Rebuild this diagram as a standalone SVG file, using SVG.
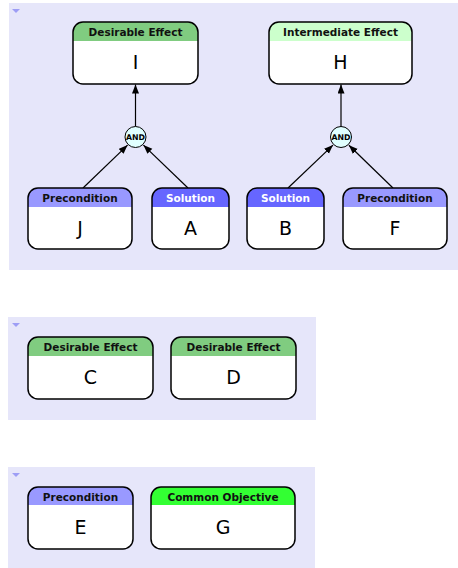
<svg xmlns="http://www.w3.org/2000/svg" width="458" height="568" viewBox="0 0 458 568">
<style>
.panel{fill:#e6e6fa}
.tri{fill:#9d9df5}
.body{fill:#fff}
.outline{fill:none;stroke:#000;stroke-width:1.5}
.title{font-family:"DejaVu Sans",sans-serif;font-weight:bold;font-size:10.5px;text-anchor:middle;fill:#111}
.title.w{fill:#fff}
.letter{font-family:"DejaVu Sans",sans-serif;font-size:19px;text-anchor:middle;fill:#000}
.de{fill:#80cc80}
.ie{fill:#ccffcc}
.pc{fill:#9999ff}
.so{fill:#6666ff}
.co{fill:#33ff33}
.and circle{fill:#e0ffff;stroke:#000;stroke-width:1}
.and text{font-family:"DejaVu Sans",sans-serif;font-weight:bold;font-size:7.8px;text-anchor:middle;fill:#000}
.conn line{stroke:#000;stroke-width:1.2;marker-end:url(#arr)}
</style>
<defs>
<marker id="arr" markerUnits="userSpaceOnUse" markerWidth="10" markerHeight="8" refX="9" refY="3.5" orient="auto">
<path d="M0,0 L9,3.5 L0,7 z" fill="#000"/>
</marker>
</defs>

<g id="panel1">
<rect class="panel" x="9" y="3" width="449" height="267"/>
<path class="tri" d="M12,9 L20,9 L16,13 z"/>
</g>
<g id="panel2">
<rect class="panel" x="8" y="317" width="308" height="103"/>
<path class="tri" d="M12,323 L20,323 L16,327 z"/>
</g>
<g id="panel3">
<rect class="panel" x="8" y="467" width="307" height="101"/>
<path class="tri" d="M12,473 L20,473 L16,477 z"/>
</g>

<g id="connectors" class="conn">
<line x1="83" y1="188" x2="127.6" y2="145.1"/>
<line x1="188" y1="188" x2="143.4" y2="145.1"/>
<line x1="135.5" y1="126.5" x2="135.5" y2="84.5"/>
<line x1="288" y1="188" x2="333" y2="145.1"/>
<line x1="393" y1="188" x2="348.9" y2="145.2"/>
<line x1="341" y1="126.5" x2="341" y2="84.5"/>
</g>

<g id="and1" class="and"><circle cx="135.5" cy="137" r="10.5"/><text x="135.5" y="139.8">AND</text></g>
<g id="and2" class="and"><circle cx="341" cy="137" r="10.5"/><text x="341" y="139.8">AND</text></g>

<g id="nodeI" transform="translate(73,22)">
<rect class="body" width="125" height="62" rx="10"/>
<path class="de" d="M0,19 V10 A10,10 0 0 1 10,0 H115 A10,10 0 0 1 125,10 V19 z"/>
<rect class="outline" width="125" height="62" rx="10"/>
<text class="title" x="62.5" y="14">Desirable Effect</text>
<text class="letter" x="62.5" y="47">I</text>
</g>

<g id="nodeH" transform="translate(269,22)">
<rect class="body" width="143" height="62" rx="10"/>
<path class="ie" d="M0,19 V10 A10,10 0 0 1 10,0 H133 A10,10 0 0 1 143,10 V19 z"/>
<rect class="outline" width="143" height="62" rx="10"/>
<text class="title" x="71.5" y="14">Intermediate Effect</text>
<text class="letter" x="71.5" y="47">H</text>
</g>

<g id="nodeJ" transform="translate(28,188)">
<rect class="body" width="104" height="61" rx="10"/>
<path class="pc" d="M0,19 V10 A10,10 0 0 1 10,0 H94 A10,10 0 0 1 104,10 V19 z"/>
<rect class="outline" width="104" height="61" rx="10"/>
<text class="title" x="52" y="14">Precondition</text>
<text class="letter" x="52" y="47">J</text>
</g>

<g id="nodeA" transform="translate(152,188)">
<rect class="body" width="77" height="61" rx="10"/>
<path class="so" d="M0,19 V10 A10,10 0 0 1 10,0 H67 A10,10 0 0 1 77,10 V19 z"/>
<rect class="outline" width="77" height="61" rx="10"/>
<text class="title w" x="38.5" y="14">Solution</text>
<text class="letter" x="38.5" y="47">A</text>
</g>

<g id="nodeB" transform="translate(247,188)">
<rect class="body" width="77" height="61" rx="10"/>
<path class="so" d="M0,19 V10 A10,10 0 0 1 10,0 H67 A10,10 0 0 1 77,10 V19 z"/>
<rect class="outline" width="77" height="61" rx="10"/>
<text class="title w" x="38.5" y="14">Solution</text>
<text class="letter" x="38.5" y="47">B</text>
</g>

<g id="nodeF" transform="translate(343,188)">
<rect class="body" width="104" height="61" rx="10"/>
<path class="pc" d="M0,19 V10 A10,10 0 0 1 10,0 H94 A10,10 0 0 1 104,10 V19 z"/>
<rect class="outline" width="104" height="61" rx="10"/>
<text class="title" x="52" y="14">Precondition</text>
<text class="letter" x="52" y="47">F</text>
</g>

<g id="nodeC" transform="translate(28,337)">
<rect class="body" width="125" height="62" rx="10"/>
<path class="de" d="M0,19 V10 A10,10 0 0 1 10,0 H115 A10,10 0 0 1 125,10 V19 z"/>
<rect class="outline" width="125" height="62" rx="10"/>
<text class="title" x="62.5" y="14">Desirable Effect</text>
<text class="letter" x="62.5" y="47">C</text>
</g>

<g id="nodeD" transform="translate(171,337)">
<rect class="body" width="125" height="62" rx="10"/>
<path class="de" d="M0,19 V10 A10,10 0 0 1 10,0 H115 A10,10 0 0 1 125,10 V19 z"/>
<rect class="outline" width="125" height="62" rx="10"/>
<text class="title" x="62.5" y="14">Desirable Effect</text>
<text class="letter" x="62.5" y="47">D</text>
</g>

<g id="nodeE" transform="translate(28,487)">
<rect class="body" width="105" height="62" rx="10"/>
<path class="pc" d="M0,18 V10 A10,10 0 0 1 10,0 H95 A10,10 0 0 1 105,10 V18 z"/>
<rect class="outline" width="105" height="62" rx="10"/>
<text class="title" x="52.5" y="14">Precondition</text>
<text class="letter" x="52.5" y="47">E</text>
</g>

<g id="nodeG" transform="translate(151,487)">
<rect class="body" width="144" height="62" rx="10"/>
<path class="co" d="M0,18 V10 A10,10 0 0 1 10,0 H134 A10,10 0 0 1 144,10 V18 z"/>
<rect class="outline" width="144" height="62" rx="10"/>
<text class="title" x="72" y="14">Common Objective</text>
<text class="letter" x="72" y="47">G</text>
</g>
</svg>
